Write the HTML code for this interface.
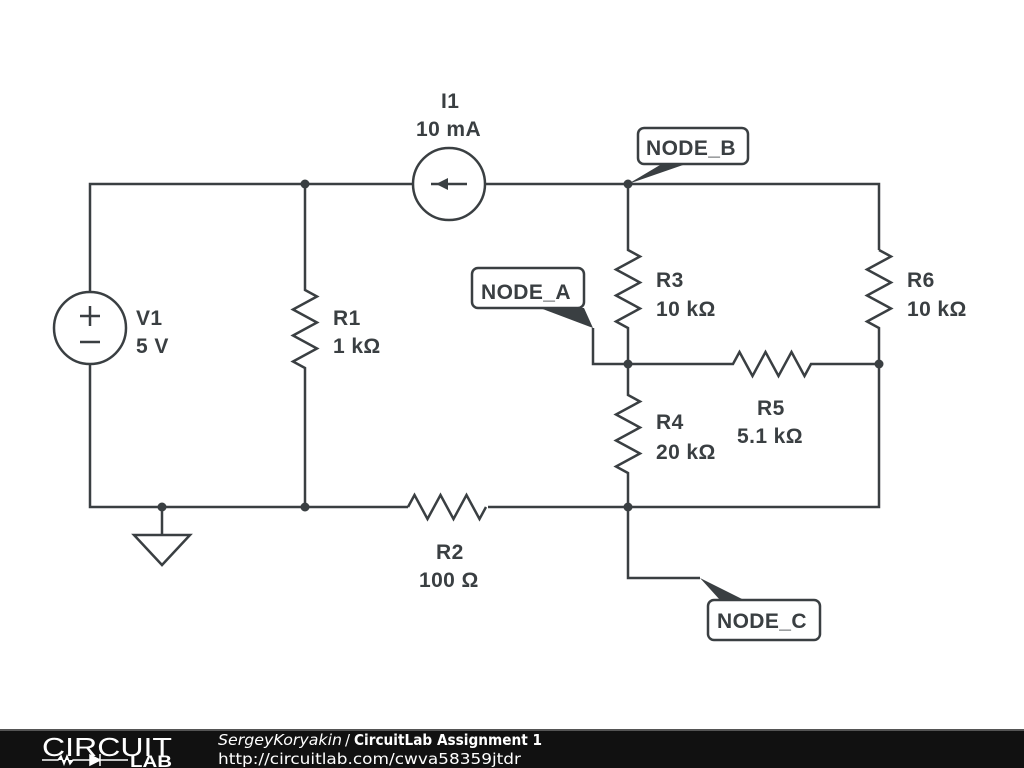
<!DOCTYPE html>
<html><head><style>
html,body{margin:0;padding:0;background:#fff;width:1024px;height:768px;overflow:hidden}
svg{display:block}
text{font-family:"Liberation Sans",sans-serif;font-weight:bold;font-size:21px;fill:#3a3f42;letter-spacing:0.4px}
text.f{font-family:"DejaVu Sans",sans-serif;font-size:15px;fill:#fff;letter-spacing:0;font-weight:normal}
text.fb{font-weight:bold}
text.fi{font-style:italic}
</style></head><body>
<svg width="1024" height="768" viewBox="0 0 1024 768" xmlns="http://www.w3.org/2000/svg">
<g stroke="#3a3f42" stroke-width="2.5" fill="none" stroke-linejoin="miter">
<path d="M90 292 V184 H413 M485 184 H879 V250"/>
<path d="M90 364 V507 H408 M488 507 H879 V364"/>
<circle cx="90" cy="328" r="36"/>
<path d="M80 316 H100 M90 306 V326 M80 342 H100"/>
<path d="M305 184 V290 l12 6.5 l-24 13 l24 13 l-24 13 l24 13 l-24 13 l12 6.5 V507"/>
<circle cx="449" cy="184" r="36"/>
<path d="M431 184 H467"/>
<path d="M628 184 V250 l12 6.5 l-24 13 l24 13 l-24 13 l24 13 l-24 13 l12 6.5 V395 l12 6.5 l-24 13 l24 13 l-24 13 l24 13 l-24 13 l12 6.5 V578 H700"/>
<path d="M879 250 l12 6.5 l-24 13 l24 13 l-24 13 l24 13 l-24 13 l12 6.5 V364"/>
<path d="M593 328 V364 H733 l6.5 -12 l13 24 l13 -24 l13 24 l13 -24 l13 24 l6.5 -12 H879"/>
<path d="M408 507 l6.5 -12 l13 24 l13 -24 l13 24 l13 -24 l13 24 l6.5 -12"/>
<path d="M162 507 V535 M134 535 H190 L162 565 Z"/>
<rect x="638" y="128" width="110" height="36" rx="6" fill="#fff"/>
<rect x="472" y="268" width="112" height="40" rx="6" fill="#fff"/>
<rect x="708" y="600" width="112" height="40" rx="6" fill="#fff"/>
</g>
<g fill="#3a3f42">
<path d="M436 184 l12 -6 v12 z"/>
<circle cx="305" cy="184" r="4.5"/><circle cx="628" cy="184" r="4.5"/>
<circle cx="305" cy="507" r="4.5"/><circle cx="162" cy="507" r="4.5"/>
<circle cx="628" cy="507" r="4.5"/><circle cx="628" cy="364" r="4.5"/>
<circle cx="879" cy="364" r="4.5"/>
<path d="M628 184 L660 165 L683 165 Z"/>
<path d="M593 328 L584 308 L540 308 Z"/>
<path d="M700 578 L720 600 L744 600 Z"/>
</g>
<text x="646" y="155" font-size="22">NODE_B</text>
<text x="481" y="299" font-size="22">NODE_A</text>
<text x="717" y="628" font-size="22">NODE_C</text>
<text x="441" y="108">I1</text><text x="416" y="136">10 mA</text>
<text x="136" y="325">V1</text><text x="136" y="353">5 V</text>
<text x="333" y="325">R1</text><text x="333" y="353">1 kΩ</text>
<text x="656" y="287">R3</text><text x="656" y="316">10 kΩ</text>
<text x="907" y="287">R6</text><text x="907" y="316">10 kΩ</text>
<text x="656" y="429">R4</text><text x="656" y="459">20 kΩ</text>
<text x="757" y="415">R5</text><text x="737" y="443">5.1 kΩ</text>
<text x="436" y="559">R2</text><text x="419" y="587">100 Ω</text>
<rect x="0" y="729" width="1024" height="39" fill="#111"/>
<rect x="0" y="729" width="1024" height="2" fill="#555"/>
<text x="42" y="756" textLength="130" lengthAdjust="spacingAndGlyphs" style="font-weight:normal;font-size:26px;fill:#fff;letter-spacing:0">CIRCUIT</text>
<path d="M42 760 H58 l3 -4 l3 8 l3 -8 l3 8 l3 -4 H100 M100 754 v12 M90 755 l10 5 l-10 5 z M100 760 H128" stroke="#fff" stroke-width="1.5" fill="#fff"/>
<text x="130" y="767" textLength="42" lengthAdjust="spacingAndGlyphs" style="font-size:17px;fill:#fff;letter-spacing:0">LAB</text>
<text x="218" y="745" class="f fi" textLength="124" lengthAdjust="spacingAndGlyphs">SergeyKoryakin</text>
<text x="345" y="745" class="f">/</text>
<text x="354" y="745" class="f fb" textLength="188" lengthAdjust="spacingAndGlyphs">CircuitLab Assignment 1</text>
<text x="218" y="764" class="f" textLength="303" lengthAdjust="spacingAndGlyphs">http://circuitlab.com/cwva58359jtdr</text>
</svg>
</body></html>
